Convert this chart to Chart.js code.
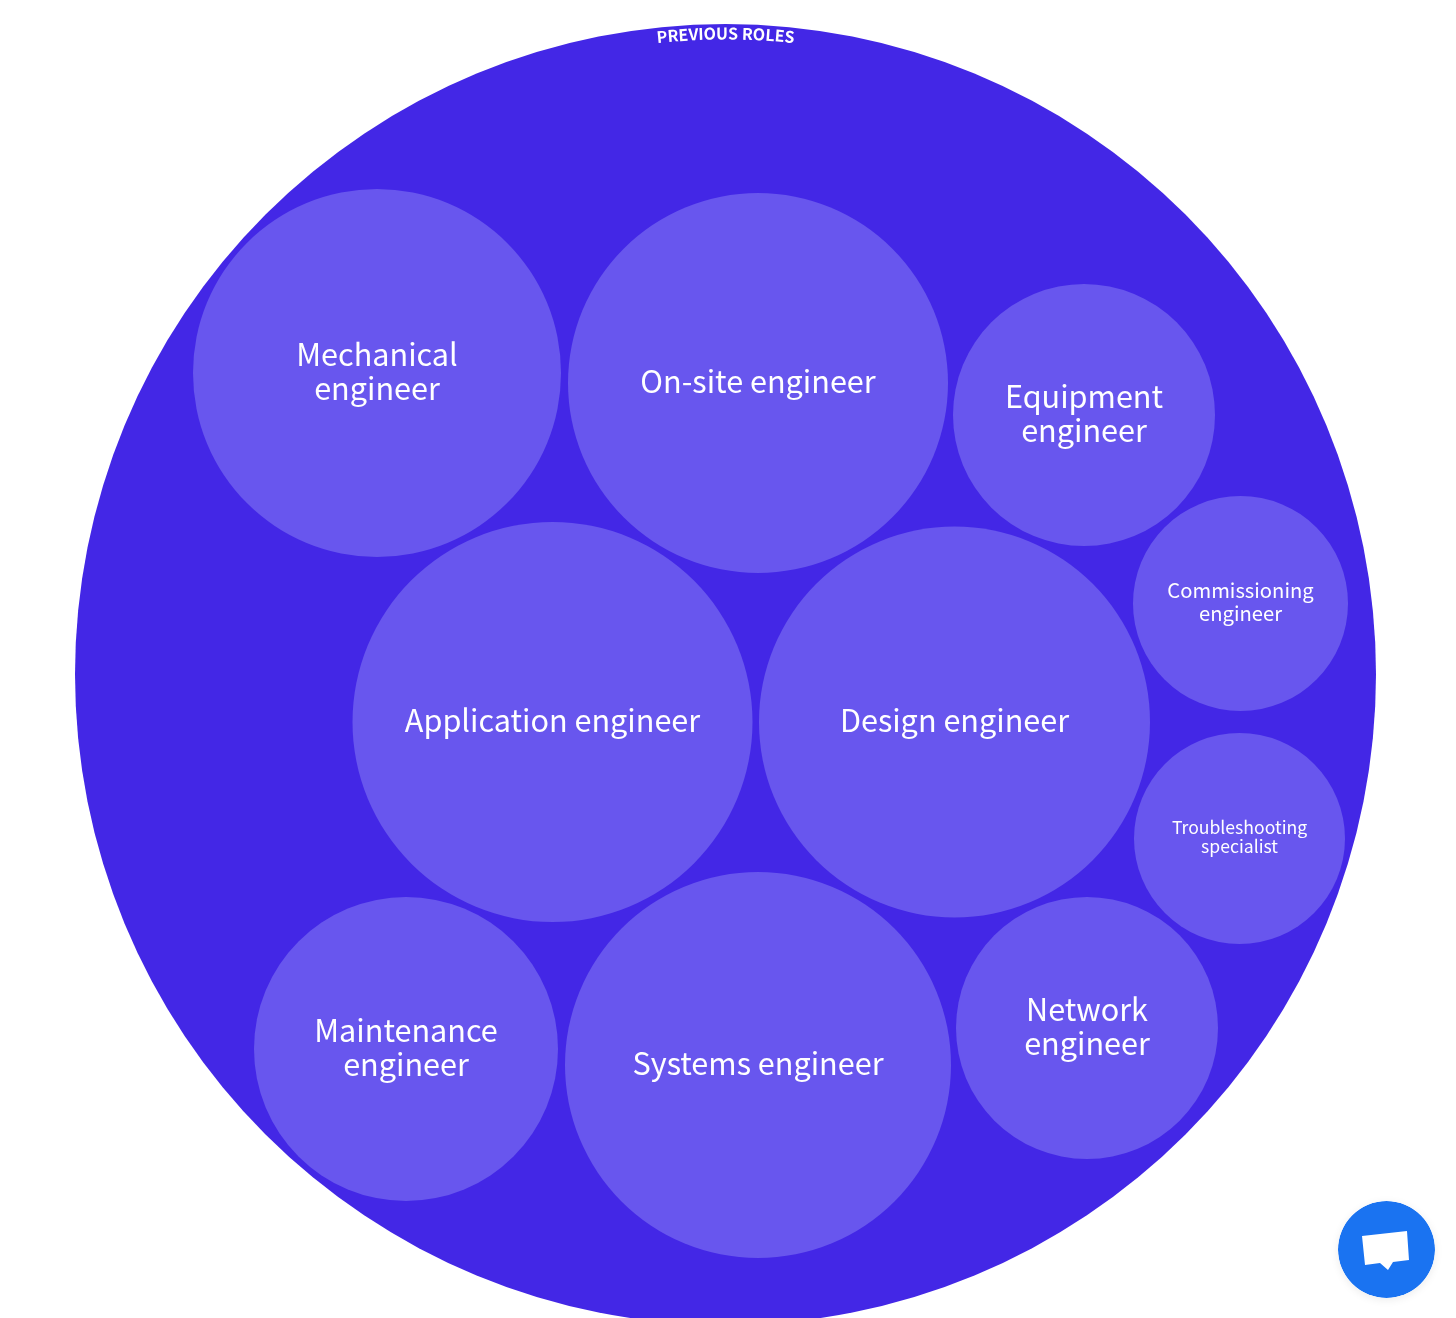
<!DOCTYPE html>
<html>
<head>
<meta charset="utf-8">
<title>Previous roles</title>
<script src="https://cdn.jsdelivr.net/npm/chart.js@4/dist/chart.umd.min.js"></script>
<style>
  html, body { margin: 0; padding: 0; background: #fff; overflow: hidden; }
  #wrap { position: relative; width: 1456px; height: 1318px; }
  #chart { display: block; }
  #chat { position: absolute; left: 1338px; top: 1201px; width: 97px; height: 97px; border-radius: 50%; box-shadow: 0 2px 8px rgba(0, 0, 0, 0.08); }
</style>
</head>
<body>
<div id="wrap">
  <canvas id="chart" width="1456" height="1318"></canvas>
  <svg id="chat" viewBox="0 0 97 97">
    <circle cx="48.5" cy="48.5" r="48.5" fill="#1a73f1"/>
    <polygon points="24,35 69,30 71,59 55,61 50,69 42,62 27,64" fill="#fff"/>
  </svg>
</div>
<script>
// Circle pack values
const parentName = "PREVIOUS ROLES";
const parentX = [725.5];
const parentY = [674.5];
const parentR = [650.5];

const roles = [
  ["Mechanical", "engineer"],
  ["On-site engineer"],
  ["Equipment", "engineer"],
  ["Commissioning", "engineer"],
  ["Application engineer"],
  ["Design engineer"],
  ["Troubleshooting", "specialist"],
  ["Maintenance", "engineer"],
  ["Systems engineer"],
  ["Network", "engineer"],
];
const roleX = [377, 758, 1084, 1240.5, 552.5, 954.5, 1239.5, 406, 758, 1087];
const roleY = [373, 383, 415, 603.5, 722, 722, 838.5, 1049, 1065, 1028];
const roleR = [184, 190, 131, 107.5, 200, 195.5, 105.5, 152, 193, 131];

const FONT = '"Noto Sans CJK SC", "Noto Sans", sans-serif';

// Smaller circles get smaller text
const labelSize = (r) => (r > 108 ? 30.6 : r > 106 ? 20.2 : 17.6);

// Writes the role names in the circles and bends the parent name along the rim
const labelsPlugin = {
  id: "packLabels",
  afterDatasetsDraw(chart) {
    const ctx = chart.ctx;
    ctx.save();
    ctx.fillStyle = "#fff";
    ctx.textAlign = "center";
    ctx.textBaseline = "middle";

    chart.getDatasetMeta(1).data.forEach((el, i) => {
      const size = labelSize(roleR[i]);
      const lines = roles[i];
      ctx.font = `400 ${size}px ${FONT}`;
      lines.forEach((line, n) => {
        const offset = (n - (lines.length - 1) / 2) * size * 1.11;
        ctx.fillText(line, el.x, el.y + offset - 1.5);
      });
    });

    const rim = chart.getDatasetMeta(0).data[0];
    const textR = 635;
    ctx.font = `700 16px ${FONT}`;
    ctx.textBaseline = "alphabetic";
    const total = ctx.measureText(parentName).width;
    let run = -total / 2;
    for (const ch of parentName) {
      const w = ctx.measureText(ch).width;
      const angle = (run + w / 2) / textR;
      ctx.save();
      ctx.translate(rim.x, rim.y);
      ctx.rotate(angle);
      ctx.fillText(ch, 0, -textR);
      ctx.restore();
      run += w;
    }
    ctx.restore();
  },
};

new Chart(document.getElementById("chart"), {
  type: "bubble",
  data: {
    datasets: [
      {
        label: "Previous roles",
        data: parentX.map((x, i) => ({ x, y: parentY[i], r: parentR[i] })),
        backgroundColor: "#4327e6",
        order: 2,
      },
      {
        label: "Roles",
        data: roleX.map((x, i) => ({ x, y: roleY[i], r: roleR[i] })),
        backgroundColor: "#6856ee",
        order: 1,
      },
    ],
  },
  options: {
    responsive: false,
    animation: false,
    // Without this the bubble radius eats the whole chart area
    layout: { padding: 0, autoPadding: false },
    elements: { point: { borderWidth: 0, hoverBorderWidth: 0 } },
    scales: {
      x: { type: "linear", min: 0, max: 1456, display: false },
      y: { type: "linear", min: 0, max: 1318, reverse: true, display: false },
    },
    plugins: {
      legend: { display: false },
      tooltip: { enabled: false },
    },
  },
  plugins: [labelsPlugin],
});
</script>
</body>
</html>
